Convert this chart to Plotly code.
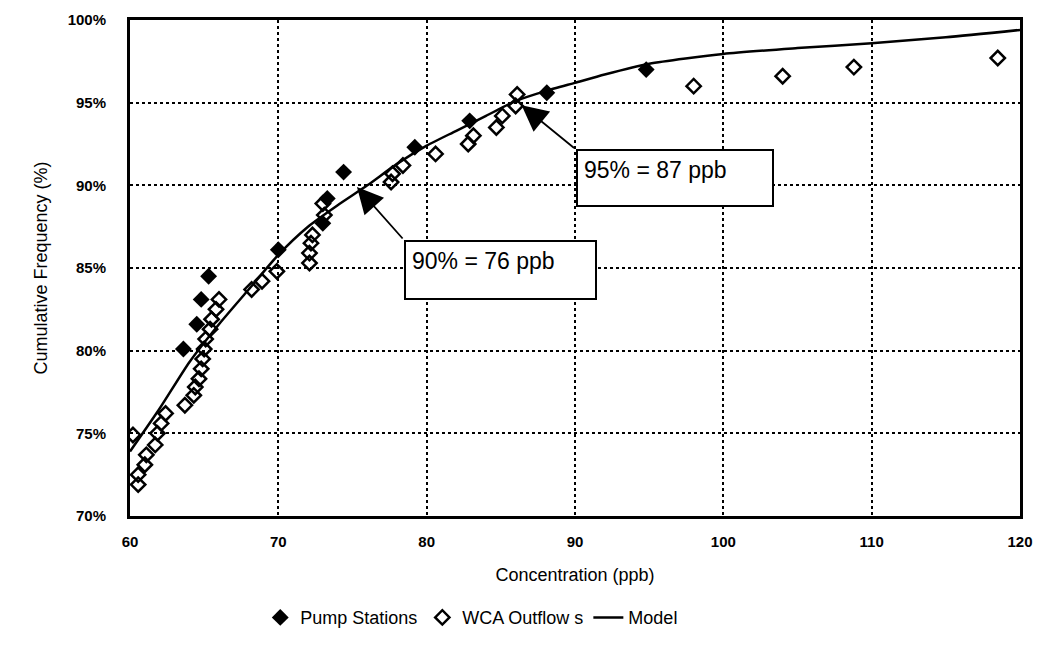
import plotly.graph_objects as go

# ---- data ----
pump_x = [63.6, 64.5, 64.8, 65.3, 70.0, 73.0, 73.3, 74.4, 79.2, 82.9, 88.1, 94.8]
pump_y = [80.1, 81.6, 83.1, 84.5, 86.1, 87.7, 89.2, 90.8, 92.3, 93.9, 95.6, 97.0]

wca_x = [60.55, 60.55, 61.0, 61.1, 60.2, 61.7, 61.85, 62.1, 62.4, 63.7,
         64.3, 64.4, 64.65, 64.8, 64.9, 65.0, 65.1, 65.4, 65.5, 65.8, 66.0,
         68.2, 68.9, 69.9, 72.1, 72.1, 72.2, 72.3, 73.1, 73.0,
         77.6, 77.7, 78.4, 80.6, 82.8, 83.15, 84.7, 85.1, 86.0, 86.1,
         98.0, 104.0, 108.8, 118.5]
wca_y = [71.9, 72.5, 73.1, 73.7, 74.9, 74.3, 75.0, 75.6, 76.2, 76.7,
         77.3, 77.8, 78.3, 78.9, 79.5, 80.1, 80.7, 81.3, 81.9, 82.5, 83.1,
         83.7, 84.2, 84.8, 85.3, 85.9, 86.5, 87.0, 88.2, 88.9,
         90.2, 90.7, 91.2, 91.9, 92.5, 93.0, 93.5, 94.2, 94.8, 95.5,
         96.0, 96.6, 97.15, 97.7]

model_x = [60, 62, 64, 66, 68, 70, 72, 74, 76, 78, 80, 82, 84, 86, 88, 90, 92,
           95, 100, 105, 110, 115, 120]
model_y = [73.9, 76.5, 79.3, 81.6, 83.7, 85.8, 87.5, 88.8, 90.0, 91.3, 92.4,
           93.3, 94.2, 95.1, 95.7, 96.2, 96.7, 97.35, 97.95, 98.3, 98.6, 98.95, 99.4]

x_ticks = [60, 70, 80, 90, 100, 110, 120]
y_ticks = [70, 75, 80, 85, 90, 95, 100]
y_tick_labels = ["70%", "75%", "80%", "85%", "90%", "95%", "100%"]

callouts = [
    # tip x, tip y, label
    (75.3, 89.9, "90% = 76 ppb"),
    (86.4, 94.85, "95% = 87 ppb"),
]

FONT = "Liberation Sans, Arial, sans-serif"

fig = go.Figure()
fig.add_trace(go.Scatter(
    x=pump_x, y=pump_y, mode="markers", name="Pump Stations",
    marker=dict(symbol="diamond", size=13, color="black"),
))
fig.add_trace(go.Scatter(
    x=wca_x, y=wca_y, mode="markers", name="WCA Outflow s",
    marker=dict(symbol="diamond-open", size=11, color="black",
                line=dict(width=2.5, color="black")),
))
fig.add_trace(go.Scatter(
    x=model_x, y=model_y, mode="lines", name="Model",
    line=dict(color="black", width=2.5, shape="spline", smoothing=0.6),
))

# arrows and boxes (offsets in pixels from arrow tip to box top-left corner)
box_geom = [(47, 53, 193, 56), (54, 44, 198, 54)]
for (tx, ty, label), (dx, dy, bw, bh) in zip(callouts, box_geom):
    fig.add_annotation(
        x=tx, y=ty, ax=dx, ay=dy, text="", showarrow=True,
        arrowhead=2, arrowsize=2.9, arrowwidth=1.8, arrowcolor="black",
        standoff=0,
    )
    fig.add_annotation(
        x=tx, y=ty, xshift=dx, yshift=-dy, text=label,
        showarrow=False, xanchor="left", yanchor="top", align="left",
        valign="top", width=bw - 16, height=bh - 12,
        font=dict(family=FONT, size=23, color="black"),
        bgcolor="white", bordercolor="black", borderwidth=2, borderpad=6,
    )

fig.update_layout(
    width=1046, height=648,
    margin=dict(l=130, r=26, t=20, b=130),
    paper_bgcolor="white", plot_bgcolor="white",
    font=dict(family=FONT, size=13, color="black"),
    showlegend=True,
    legend=dict(orientation="h", x=0.384, y=-0.205, xanchor="center",
                yanchor="middle", font=dict(family=FONT, size=18, color="black"),
                itemwidth=30, traceorder="normal"),
)
fig.update_xaxes(
    range=[60, 120], tickvals=x_ticks, ticks="", showgrid=True,
    gridcolor="black", griddash="dot", gridwidth=1.5,
    showline=True, linecolor="black", linewidth=3, mirror=True,
    zeroline=False, ticklabelstandoff=10,
    tickfont=dict(family=FONT, size=15, color="black", weight="bold"),
    title=dict(text="Concentration (ppb)", font=dict(family=FONT, size=18, color="black"),
               standoff=20),
)
fig.update_yaxes(
    range=[70, 100], tickvals=y_ticks, ticktext=y_tick_labels, ticks="",
    showgrid=True, gridcolor="black", griddash="dot", gridwidth=1.5,
    showline=True, linecolor="black", linewidth=3, mirror=True,
    zeroline=False, ticklabelstandoff=18,
    tickfont=dict(family=FONT, size=15, color="black", weight="bold"),
    title=dict(text="Cumulative Frequency (%)", font=dict(family=FONT, size=18, color="black"),
               standoff=16),
)

fig.write_html("out.html")
